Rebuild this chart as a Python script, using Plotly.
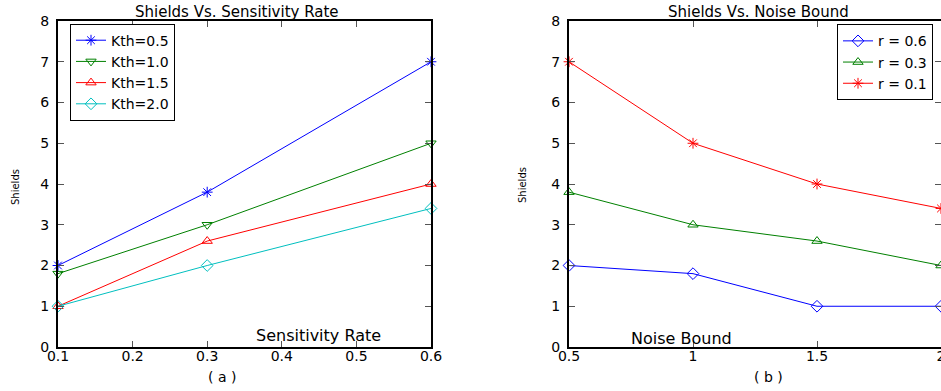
import plotly.graph_objects as go

# ---- data ----
sens_x = [0.1, 0.3, 0.6]
kth_labels = ["Kth=0.5", "Kth=1.0", "Kth=1.5", "Kth=2.0"]
kth_05 = [2, 3.8, 7]
kth_10 = [1.8, 3, 5]
kth_15 = [1, 2.6, 4]
kth_20 = [1, 2, 3.4]

noise_x = [0.5, 1, 1.5, 2]
r_labels = ["r = 0.6", "r = 0.3", "r = 0.1"]
r_06 = [2, 1.8, 1, 1]
r_03 = [3.8, 3, 2.6, 2]
r_01 = [7, 5, 4, 3.4]

left_ticks = [0.1, 0.2, 0.3, 0.4, 0.5, 0.6]
right_ticks = [0.5, 1, 1.5, 2]
y_ticks = [0, 1, 2, 3, 4, 5, 6, 7, 8]

W, H = 941, 391
FONT = "DejaVu Sans"

fig = go.Figure()

left_series = [
    (kth_labels[0], kth_05, "#0000ff", "asterisk-open"),
    (kth_labels[1], kth_10, "#008000", "triangle-down-open"),
    (kth_labels[2], kth_15, "#ff0000", "triangle-up-open"),
    (kth_labels[3], kth_20, "#00bfbf", "diamond-open"),
]
for name, ys, c, sym in left_series:
    fig.add_trace(go.Scatter(
        x=sens_x, y=ys, name=name, mode="lines+markers",
        line=dict(color=c, width=1),
        marker=dict(symbol=sym, size=9, color=c, line=dict(color=c, width=1)),
        xaxis="x", yaxis="y", legend="legend", cliponaxis=False,
    ))

right_series = [
    (r_labels[0], r_06, "#0000ff", "diamond-open"),
    (r_labels[1], r_03, "#008000", "triangle-up-open"),
    (r_labels[2], r_01, "#ff0000", "asterisk-open"),
]
for name, ys, c, sym in right_series:
    fig.add_trace(go.Scatter(
        x=noise_x, y=ys, name=name, mode="lines+markers",
        line=dict(color=c, width=1),
        marker=dict(symbol=sym, size=9, color=c, line=dict(color=c, width=1)),
        xaxis="x2", yaxis="y2", legend="legend2", cliponaxis=False,
    ))

axis_common = dict(
    showline=True, linecolor="black", linewidth=2, mirror="ticks",
    ticks="inside", ticklen=6, tickwidth=1, tickcolor="#555555",
    showgrid=False, zeroline=False, automargin=False,
    tickfont=dict(family=FONT, size=14, color="black"),
)

top_px, bot_px = 21, 347
m_t, m_b = top_px, H - bot_px

fig.update_layout(
    width=W, height=H,
    margin=dict(l=0, r=0, t=m_t, b=m_b),
    paper_bgcolor="white", plot_bgcolor="white",
    template="none",
    font=dict(family=FONT, size=13, color="black"),
    xaxis=dict(domain=[58 / W, 431 / W], range=[0.1, 0.6], tickvals=left_ticks,
               ticktext=[str(v) for v in left_ticks], anchor="y",
               ticklabelstandoff=-5, **axis_common),
    yaxis=dict(domain=[0, 1], range=[0, 8], tickvals=y_ticks, anchor="x",
               ticklabelstandoff=4, **axis_common),
    xaxis2=dict(domain=[569 / W, 1.0], range=[0.5, 2], tickvals=right_ticks,
                ticktext=["0.5", "1", "1.5", "2"], anchor="y2",
                ticklabelstandoff=-5, ticklabeloverflow="allow", **axis_common),
    yaxis2=dict(domain=[0, 1], range=[0, 8], tickvals=y_ticks, anchor="x2",
                ticklabelstandoff=4, **axis_common),
    legend=dict(x=70 / W, y=0.992, xanchor="left", yanchor="top",
                bgcolor="white", bordercolor="black", borderwidth=1,
                font=dict(family=FONT, size=14), tracegroupgap=0,
                itemwidth=30),
    legend2=dict(x=933 / W, y=0.99, xanchor="right", yanchor="top",
                 bgcolor="white", bordercolor="black", borderwidth=1,
                 font=dict(family=FONT, size=14), tracegroupgap=0,
                 itemwidth=30),
    showlegend=True,
)

ph = bot_px - top_px
def py(pixel_y):
    return (bot_px - pixel_y) / ph

def ann(text, xp, yp, size, angle=0):
    return dict(text=text, x=xp / W, y=py(yp), xref="paper", yref="paper",
                xanchor="center", yanchor="middle", showarrow=False,
                textangle=angle, font=dict(family=FONT, size=size))

annotations = [
    ann("Shields Vs. Sensitivity Rate", 237, 12, 15),
    ann("Shields Vs. Noise Bound", 758, 12, 15),
    ann("Sensitivity Rate", 318, 335, 16),
    ann("Noise Bound", 681, 338, 16),
    ann("( a )", 222, 377, 14),
    ann("( b )", 768, 377, 14),
    ann("Shields", 16, 187, 10, -90),
    ann("Shields", 522, 185, 10, -90),
]
fig.update_layout(annotations=annotations)

fig.write_html("out.html", config={"displayModeBar": False},
               post_script="document.body.style.margin='0px';")
